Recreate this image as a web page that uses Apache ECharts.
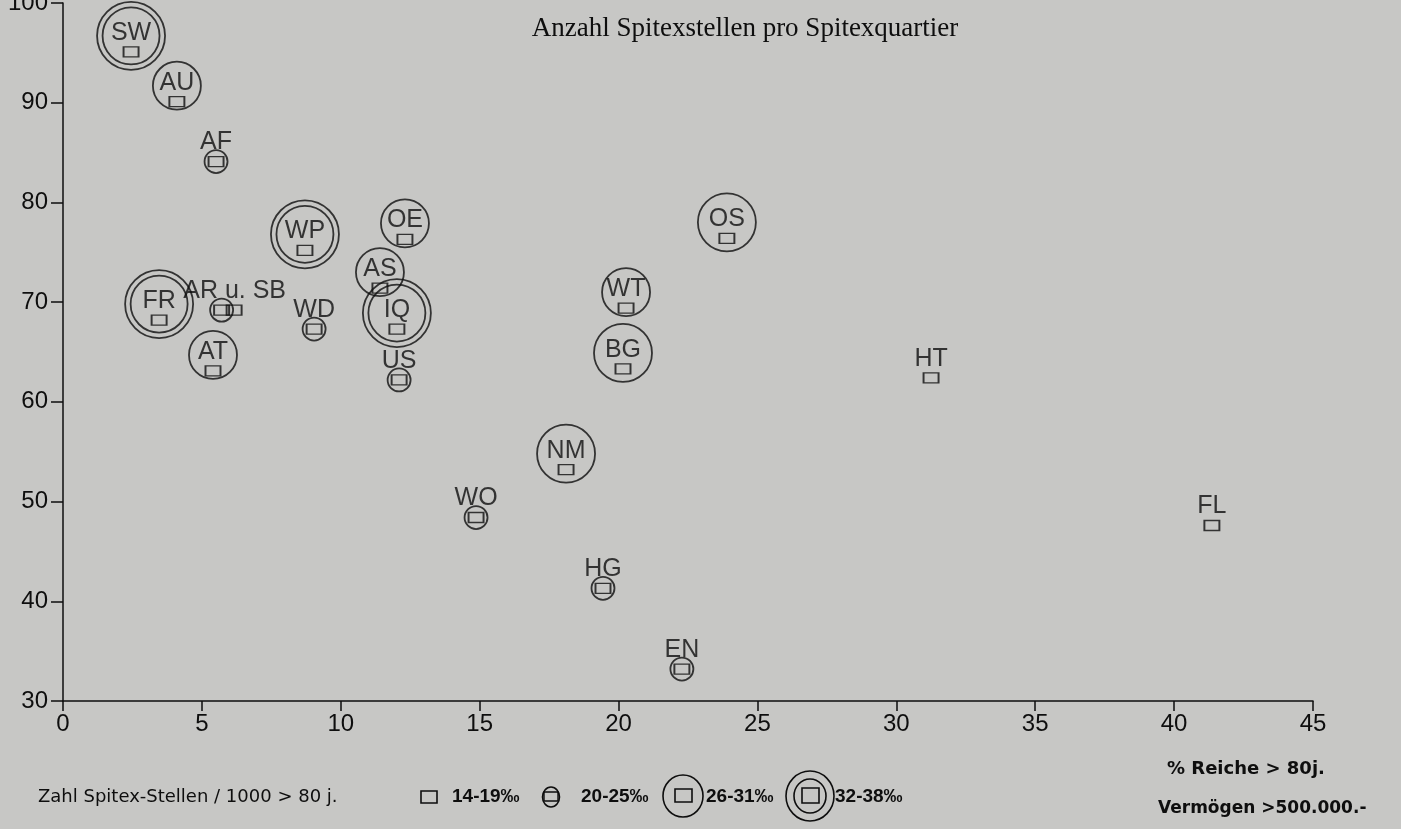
<!DOCTYPE html>
<html><head><meta charset="utf-8">
<script src="https://cdn.jsdelivr.net/npm/echarts@6/dist/echarts.min.js"></script>
<style>html,body{margin:0;padding:0;background:#c7c7c5}#c{width:1401px;height:829px}</style>
</head><body><div id="c"></div>
<script>
// Quartier codes
const names = ['SW','AU','AF','WP','OE','AS','IQ','FR','AR','SB','AT','WD','US','WT','BG','OS','NM','WO','HG','EN','HT','FL'];
// % Reiche > 80 j. (Vermögen > 500.000.-)
const reiche = [2.45,4.10,5.51,8.71,12.31,11.41,12.02,3.46,5.71,6.16,5.40,9.04,12.10,20.27,20.16,23.90,18.11,14.87,19.44,22.28,31.25,41.36];
// y values
const stellen = [95.1,90.1,84.1,75.2,76.3,71.4,67.3,68.2,69.2,69.2,63.1,67.3,62.2,69.4,63.3,76.4,53.2,48.4,41.3,33.2,62.4,47.6];
// Zahl Spitex-Stellen / 1000 > 80 j. (‰, estimated from circle class)
const rate = [35,27,22,35,27,27,35,35,22,17,27,22,22,27,30,30,30,22,22,22,17,17];
// shown labels
const pointLabels = ['SW','AU','AF','WP','OE','AS','IQ','FR','AR u. SB','','AT','WD','US','WT','BG','OS','NM','WO','HG','EN','HT','FL'];
const xTickLabels = ['0','5','10','15','20','25','30','35','40','45'];
const yTickLabels = ['30','40','50','60','70','80','90','100'];
const legendClasses = ['14-19‰','20-25‰','26-31‰','32-38‰'];

const INK = '#0e0e0e';
const BG = '#c7c7c5';

function circleR(r){
  if (r < 20) return 0;
  if (r < 26) return 11.5;
  if (r < 32) return 24 + (r - 27) * 5 / 3;
  return 34;
}
const squares = names.map((n,i)=>{
  const it = {name:n, value:[reiche[i], stellen[i]], label:{formatter: pointLabels[i]}};
  if (n === 'AR') it.label.offset = [13,-19];
  return it;
});
const circles = [], inner = [];
names.forEach((n,i)=>{
  const r = circleR(rate[i]);
  if (!r) return;
  const off = rate[i] >= 26 ? [0,-16] : [0,0];
  circles.push({name:n, value:[reiche[i], stellen[i]], symbolSize: 2*r, symbolOffset: off});
  if (rate[i] >= 32) inner.push({name:n, value:[reiche[i], stellen[i]], symbolSize: 57, symbolOffset: off});
});

const chart = echarts.init(document.getElementById('c'), null, {renderer:'canvas'});
const legendY = 797;
const SANS = '"Liberation Sans", Arial, sans-serif';
const txt = (x,y,t,opt) => Object.assign({type:'text', x, y, style: Object.assign({text:t, fill:INK, font:'17px ' + SANS, textVerticalAlign:'middle'}, opt||{})});
chart.setOption({
  backgroundColor: BG,
  animation: false,
  title: {text:'Anzahl Spitexstellen pro Spitexquartier', left: 740, top: 10, textAlign:'center',
    textStyle:{fontFamily:'"Liberation Serif", serif', fontSize:27, fontWeight:'normal', color: INK}},
  grid: {left:63, right:88, top:3, bottom:128, outerBoundsMode:'none', containLabel:false},
  xAxis: {type:'value', min:0, max:45, interval:5,
    axisLine:{lineStyle:{color:INK, width:1.5}},
    axisTick:{show:true, length:10, lineStyle:{color:INK, width:1.5}},
    splitLine:{show:false},
    axisLabel:{margin:11, fontSize:24, color:INK, fontFamily:SANS,
      formatter:(v)=>xTickLabels[Math.round(v/5)]}},
  yAxis: {type:'value', min:30, max:100, interval:10,
    axisLine:{show:true, lineStyle:{color:INK, width:1.5}},
    axisTick:{show:true, length:12, lineStyle:{color:INK, width:1.5}},
    splitLine:{show:false},
    axisLabel:{margin:15, fontSize:24, color:INK, fontFamily:SANS,
      formatter:(v)=>yTickLabels[Math.round((v-30)/10)]}},
  series: [
    {type:'scatter', name:'circles', data:circles, symbol:'circle', z:2, silent:true,
      itemStyle:{color:'rgba(0,0,0,0)', borderColor:INK, borderWidth:1.8}},
    {type:'scatter', name:'inner', data:inner, symbol:'circle', z:2, silent:true,
      itemStyle:{color:'rgba(0,0,0,0)', borderColor:INK, borderWidth:1.8}},
    {type:'scatter', name:'squares', data:squares, symbol:'rect', symbolSize:[15,10], z:3, silent:true,
      itemStyle:{color:'rgba(0,0,0,0)', borderColor:INK, borderWidth:1.6},
      label:{show:true, position:'inside', offset:[0,-19], fontSize:25, color:INK, fontFamily:SANS}}
  ],
  graphic: [
    txt(38, legendY, 'Zahl Spitex-Stellen / 1000 > 80 j.', {font:'18px "DejaVu Sans", sans-serif'}),
    {type:'rect', shape:{x:421, y:legendY-6, width:16, height:12}, style:{fill:'none', stroke:INK, lineWidth:1.6}},
    txt(452, legendY, legendClasses[0], {font:'bold 19px ' + SANS}),
    {type:'ellipse', shape:{cx:551, cy:legendY, rx:8.5, ry:10}, style:{fill:'none', stroke:INK, lineWidth:1.6}},
    {type:'rect', shape:{x:544, y:legendY-5, width:14, height:9}, style:{fill:'none', stroke:INK, lineWidth:1.4}},
    txt(581, legendY, legendClasses[1], {font:'bold 19px ' + SANS}),
    {type:'ellipse', shape:{cx:683, cy:legendY-1, rx:20, ry:21}, style:{fill:'none', stroke:INK, lineWidth:1.6}},
    {type:'rect', shape:{x:675, y:legendY-8, width:17, height:13}, style:{fill:'none', stroke:INK, lineWidth:1.6}},
    txt(706, legendY, legendClasses[2], {font:'bold 19px ' + SANS}),
    {type:'ellipse', shape:{cx:810, cy:legendY-1, rx:24, ry:25}, style:{fill:'none', stroke:INK, lineWidth:1.6}},
    {type:'ellipse', shape:{cx:810, cy:legendY-1, rx:16, ry:17}, style:{fill:'none', stroke:INK, lineWidth:1.6}},
    {type:'rect', shape:{x:802, y:legendY-9, width:17, height:15}, style:{fill:'none', stroke:INK, lineWidth:1.6}},
    txt(835, legendY, legendClasses[3], {font:'bold 19px ' + SANS}),
    txt(1167, 769, '% Reiche > 80j.', {font:'bold 18px "DejaVu Sans", sans-serif'}),
    txt(1158, 809, 'Vermögen >500.000.-', {font:'bold 17px "DejaVu Sans", sans-serif'})
  ]
});
</script></body></html>
